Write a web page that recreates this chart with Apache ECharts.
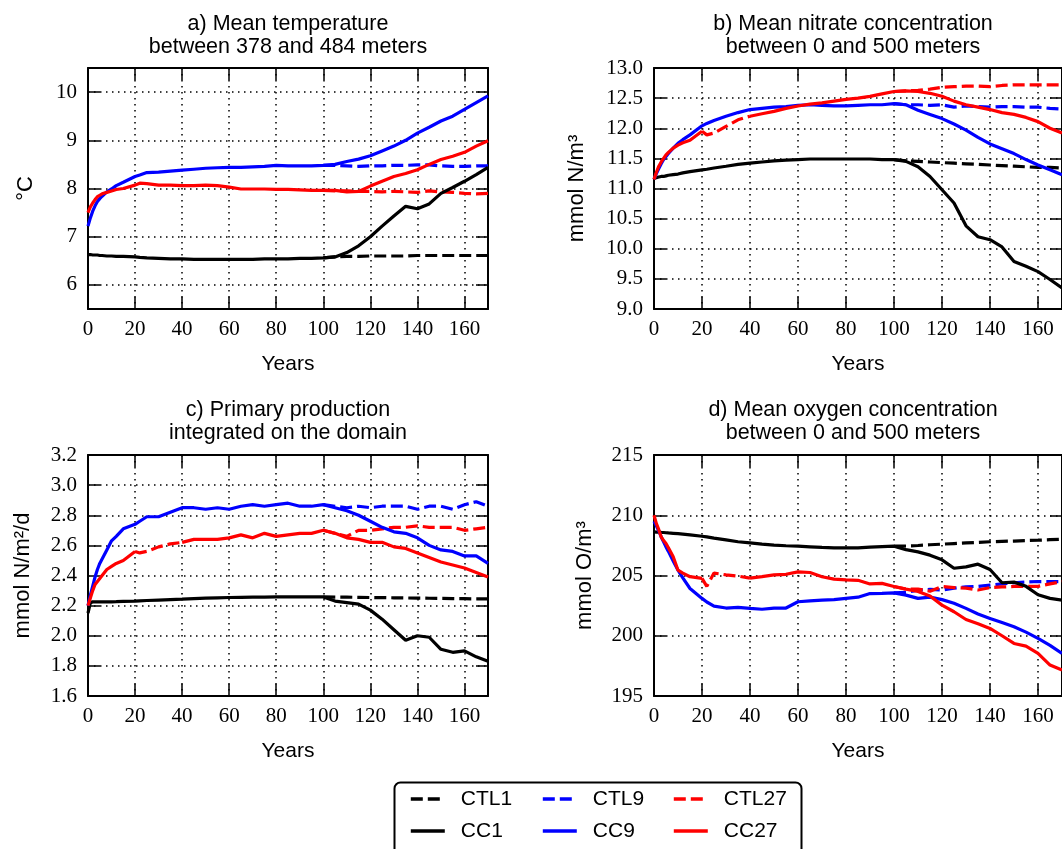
<!DOCTYPE html>
<html><head><meta charset="utf-8">
<script src="https://cdn.jsdelivr.net/npm/echarts@6/dist/echarts.min.js"></script>
<style>html,body{margin:0;padding:0;background:#fff}#c{width:1062px;height:849px}</style>
</head><body><div id="c"></div>
<script>
// ---------- data ----------
const years = [0,1,2,3,4,5,6,8,10,12,15,20,22,25,30,35,40,45,50,55,60,65,70,75,80,85,90,95,100,105,110,115,120,125,130,135,140,145,150,155,160,165,170];
const ctlYears = [100,105,110,115,120,125,130,135,140,145,150,155,160,165,170];
const gapYears = [20,22,25,30,35,40];

const xTicks = [0,20,40,60,80,100,120,140,160];
const tempTicks = [6,7,8,9,10];
const nitrateTicks = [9.0,9.5,10.0,10.5,11.0,11.5,12.0,12.5,13.0];
const ppTicks = [1.6,1.8,2.0,2.2,2.4,2.6,2.8,3.0,3.2];
const oxyTicks = [195,200,205,210,215];

// a) temperature
const tempCC1 = [6.63,6.63,6.62,6.62,6.62,6.61,6.61,6.60,6.60,6.59,6.59,6.58,6.57,6.56,6.55,6.54,6.54,6.53,6.53,6.53,6.53,6.53,6.53,6.54,6.54,6.54,6.55,6.55,6.56,6.58,6.67,6.81,7.00,7.22,7.43,7.63,7.58,7.68,7.90,8.02,8.15,8.29,8.44];
const tempCC9 = [7.22,7.39,7.53,7.64,7.73,7.79,7.84,7.93,7.99,8.06,8.13,8.25,8.28,8.33,8.34,8.36,8.38,8.40,8.42,8.43,8.44,8.44,8.45,8.46,8.48,8.47,8.47,8.47,8.48,8.50,8.56,8.61,8.68,8.78,8.88,9.00,9.15,9.27,9.40,9.50,9.64,9.78,9.92];
const tempCC27 = [7.50,7.62,7.70,7.77,7.83,7.86,7.89,7.92,7.95,7.98,8.00,8.07,8.11,8.10,8.07,8.07,8.06,8.06,8.07,8.06,8.03,7.99,7.99,7.99,7.98,7.98,7.97,7.96,7.96,7.96,7.93,7.94,8.05,8.15,8.25,8.31,8.39,8.50,8.60,8.67,8.75,8.88,8.99];
const tempCTL1 = [6.56,6.58,6.59,6.59,6.60,6.60,6.60,6.60,6.61,6.61,6.61,6.61,6.61,6.61,6.61];
const tempCTL9 = [8.48,8.48,8.47,8.46,8.47,8.47,8.48,8.48,8.49,8.49,8.47,8.46,8.46,8.47,8.47];
const tempCTL27 = [7.96,7.95,7.95,7.94,7.94,7.93,7.94,7.93,7.92,7.95,7.93,7.92,7.90,7.89,7.90];

// b) nitrate
const nitCC1 = [11.17,11.18,11.19,11.20,11.20,11.21,11.22,11.23,11.24,11.26,11.28,11.31,11.32,11.34,11.37,11.40,11.42,11.44,11.46,11.47,11.48,11.49,11.49,11.49,11.49,11.49,11.49,11.48,11.48,11.45,11.36,11.20,10.98,10.76,10.38,10.20,10.15,10.03,9.79,9.71,9.62,9.49,9.35];
const nitCC9 = [11.15,11.25,11.33,11.41,11.48,11.53,11.58,11.67,11.75,11.81,11.89,12.04,12.08,12.13,12.20,12.26,12.31,12.33,12.35,12.36,12.38,12.39,12.38,12.37,12.37,12.38,12.39,12.39,12.41,12.39,12.30,12.23,12.16,12.07,11.97,11.85,11.74,11.66,11.58,11.48,11.39,11.31,11.23];
const nitCC27 = [11.15,11.27,11.37,11.44,11.50,11.56,11.60,11.67,11.72,11.76,11.80,11.95,null,null,null,null,12.20,12.24,12.28,12.33,12.37,12.40,12.42,12.45,12.48,12.50,12.53,12.57,12.61,12.62,12.61,12.58,12.53,12.45,12.39,12.35,12.31,12.26,12.23,12.18,12.11,12.00,11.92];
const nitCTL1 = [11.48,11.46,11.45,11.44,11.43,11.42,11.41,11.40,11.39,11.38,11.37,11.36,11.35,11.35,11.34];
const nitCTL9 = [12.41,12.39,12.39,12.38,12.39,12.35,12.37,12.36,12.35,12.36,12.36,12.35,12.35,12.33,12.32];
const nitCTL27 = [12.61,12.62,12.63,12.65,12.68,12.69,12.70,12.70,12.69,12.71,12.72,12.72,12.72,12.72,12.72];
const nitCTL27gap = [11.95,11.89,11.92,12.03,12.14,12.20];

// c) primary production
const ppCC1 = [2.15,2.22,2.225,2.225,2.225,2.225,2.225,2.225,2.225,2.226,2.228,2.23,2.232,2.234,2.237,2.24,2.243,2.247,2.25,2.252,2.254,2.255,2.256,2.257,2.258,2.258,2.258,2.258,2.258,2.23,2.22,2.21,2.17,2.11,2.04,1.97,2.00,1.99,1.91,1.89,1.90,1.86,1.83];
const ppCC9 = [2.20,2.27,2.33,2.39,2.44,2.48,2.51,2.57,2.63,2.66,2.71,2.74,2.76,2.79,2.79,2.82,2.85,2.85,2.84,2.85,2.84,2.86,2.87,2.86,2.87,2.88,2.86,2.86,2.87,2.85,2.83,2.80,2.76,2.72,2.69,2.68,2.65,2.60,2.57,2.56,2.53,2.53,2.48];
const ppCC27 = [2.20,2.25,2.30,2.34,2.36,2.38,2.40,2.44,2.46,2.48,2.50,2.56,null,null,null,null,2.62,2.64,2.64,2.64,2.65,2.67,2.65,2.68,2.66,2.67,2.68,2.68,2.70,2.68,2.65,2.64,2.62,2.62,2.59,2.58,2.55,2.52,2.49,2.47,2.45,2.42,2.39];
const ppCTL1 = [2.258,2.257,2.256,2.255,2.254,2.253,2.252,2.251,2.250,2.249,2.248,2.247,2.246,2.245,2.245];
const ppCTL9 = [2.87,2.86,2.85,2.86,2.85,2.86,2.86,2.86,2.84,2.86,2.86,2.84,2.87,2.89,2.86];
const ppCTL27 = [2.70,2.68,2.66,2.70,2.70,2.71,2.72,2.72,2.73,2.72,2.72,2.72,2.70,2.71,2.72];
const ppCTL27gap = [2.56,2.55,2.56,2.59,2.61,2.62];

// d) oxygen
const oxyCC1 = [208.62,208.6,208.6,208.58,208.57,208.55,208.53,208.5,208.47,208.43,208.37,208.26,208.2,208.1,207.95,207.8,207.7,207.6,207.52,207.47,207.43,207.38,207.33,207.3,207.29,207.3,207.35,207.4,207.43,207.15,206.96,206.69,206.3,205.6,205.72,205.94,205.5,204.4,204.45,204.1,203.4,203.1,202.96];
const oxyCC9 = [209.5,209.1,208.7,208.2,207.8,207.37,207.0,206.2,205.44,204.8,203.92,203.1,202.8,202.46,202.3,202.35,202.27,202.2,202.3,202.3,202.82,202.9,202.96,203.0,203.1,203.2,203.5,203.52,203.56,203.37,203.1,203.2,203.0,202.7,202.27,201.8,201.44,201.1,200.75,200.3,199.78,199.2,198.54];
const oxyCC27 = [210.0,209.3,208.8,208.2,207.9,207.65,207.3,206.55,205.44,205.2,204.9,204.76,null,null,null,null,204.78,204.9,205.05,205.1,205.3,205.25,204.9,204.7,204.64,204.6,204.3,204.35,204.09,203.87,203.68,203.3,202.54,201.99,201.35,201.0,200.61,200.0,199.36,199.14,198.54,197.57,197.15];
const oxyCTL1 = [207.43,207.45,207.49,207.55,207.6,207.65,207.7,207.75,207.8,207.83,207.86,207.9,207.93,207.97,208.0];
const oxyCTL9 = [203.56,203.6,203.78,203.85,203.8,203.95,204.06,204.1,204.2,204.3,204.4,204.45,204.5,204.5,204.5];
const oxyCTL27 = [204.09,203.87,203.87,203.7,204.09,204.0,203.95,203.8,204.0,204.05,204.09,204.1,204.1,204.3,204.5];
const oxyCTL27gap = [204.76,204.1,205.2,205.05,204.95,204.78];

// ---------- chart ----------
const SANS = '"Liberation Sans", Arial, Helvetica, sans-serif';
const SERIF = '"Liberation Serif", "DejaVu Serif", serif';
const BLACK = '#000000', BLUE = '#0000ff', RED = '#ff0000';

const panels = [
  {title:'a) Mean temperature\nbetween 378 and 484 meters', cx:288, ty:13, yName:'°C', nameGap:51,
   yMin:5.5, yMax:10.5, yTicks:tempTicks, dec:0, left:88, top:68, width:400,
   cc:[tempCC1,tempCC9,tempCC27], ctl:[tempCTL1,tempCTL9,tempCTL27], gap:null},
  {title:'b) Mean nitrate concentration\nbetween 0 and 500 meters', cx:853, ty:13, yName:'mmol N/m³', nameGap:66,
   yMin:9, yMax:13, yTicks:nitrateTicks, dec:1, left:654, top:68, width:409,
   cc:[nitCC1,nitCC9,nitCC27], ctl:[nitCTL1,nitCTL9,nitCTL27], gap:nitCTL27gap},
  {title:'c) Primary production\nintegrated on the domain', cx:288, ty:399, yName:'mmol N/m²/d', nameGap:54,
   yMin:1.6, yMax:3.2, yTicks:ppTicks, dec:1, left:88, top:455, width:400,
   cc:[ppCC1,ppCC9,ppCC27], ctl:[ppCTL1,ppCTL9,ppCTL27], gap:ppCTL27gap},
  {title:'d) Mean oxygen concentration\nbetween 0 and 500 meters', cx:853, ty:399, yName:'mmol O/m³', nameGap:58,
   yMin:195, yMax:215, yTicks:oxyTicks, dec:0, left:654, top:455, width:409,
   cc:[oxyCC1,oxyCC9,oxyCC27], ctl:[oxyCTL1,oxyCTL9,oxyCTL27], gap:oxyCTL27gap}
];

const names = {cc:['CC1','CC9','CC27'], ctl:['CTL1','CTL9','CTL27']};
const colors = [BLACK, BLUE, RED];
const DASH = [12, 5];
const LW = 3.2;

const grids = [], xAxes = [], yAxes = [], series = [], titles = [];
const gridLine = {show:true, lineStyle:{color:'#000', width:1.5, type:[1.5,4.5]}};
const axLine = {show:true, onZero:false, lineStyle:{color:'#000', width:2}};

panels.forEach((p, i) => {
  grids.push({left:p.left, top:p.top, width:p.width, height:241, containLabel:false});
  titles.push({text:p.title, left:p.cx, top:p.ty, textAlign:'center', padding:0,
    textStyle:{fontFamily:SANS, fontSize:21.5, fontWeight:'normal', color:'#000', lineHeight:23}});
  const tick = (vals) => ({show:true, inside:true, length:12, customValues:vals, lineStyle:{color:'#000', width:1.5}});
  xAxes.push({type:'value', gridIndex:i, min:0, max:170, position:'bottom',
    axisLine:axLine, axisTick:tick(xTicks), splitLine:gridLine,
    axisLabel:{customValues:xTicks, fontFamily:SERIF, fontSize:21, color:'#000', margin:10},
    name:'Years', nameLocation:'middle', nameGap:45,
    nameTextStyle:{fontFamily:SANS, fontSize:21, color:'#000'}});
  xAxes.push({type:'value', gridIndex:i, min:0, max:170, position:'top',
    axisLine:axLine, axisTick:tick(xTicks), splitLine:{show:false}, axisLabel:{show:false}});
  yAxes.push({type:'value', gridIndex:i, min:p.yMin, max:p.yMax, position:'left',
    axisLine:axLine, axisTick:tick(p.yTicks), splitLine:gridLine,
    axisLabel:{customValues:p.yTicks, fontFamily:SERIF, fontSize:21, color:'#000', margin:11,
      formatter:(v)=>Number(v).toFixed(p.dec)},
    name:p.yName, nameLocation:'middle', nameGap:p.nameGap,
    nameTextStyle:{fontFamily:SANS, fontSize:22, color:'#000'}});
  yAxes.push({type:'value', gridIndex:i, min:p.yMin, max:p.yMax, position:'right',
    axisLine:axLine, axisTick:tick(p.yTicks), splitLine:{show:false}, axisLabel:{show:false}});

  const base = {type:'line', xAxisIndex:2*i, yAxisIndex:2*i, symbol:'none', showSymbol:false,
    silent:true, animation:false, connectNulls:false};
  // control runs (dashed)
  p.ctl.forEach((arr, k) => {
    series.push(Object.assign({}, base, {name:names.ctl[k],
      data: ctlYears.map((x, j) => [x, arr[j]]),
      lineStyle:{color:colors[k], width:LW, type:DASH}, itemStyle:{color:colors[k]}}));
  });
  if (p.gap) {
    series.push(Object.assign({}, base, {name:'CTL27',
      data: gapYears.map((x, j) => [x, p.gap[j]]),
      lineStyle:{color:RED, width:LW, type:DASH}, itemStyle:{color:RED}}));
  }
  // climate change runs (solid)
  p.cc.forEach((arr, k) => {
    series.push(Object.assign({}, base, {name:names.cc[k],
      data: years.map((x, j) => [x, arr[j]]),
      lineStyle:{color:colors[k], width:LW, type:'solid'}, itemStyle:{color:colors[k]}}));
  });
});

const legendCols = [[409, ['CTL1','CC1']], [541, ['CTL9','CC9']], [672, ['CTL27','CC27']]];
const legends = legendCols.map(([left, data]) => ({
  left:left, top:787, orient:'vertical', padding:0, itemWidth:34, itemHeight:14, itemGap:8,
  selectedMode:false, data:data, itemStyle:{opacity:0}, lineStyle:{width:3.6},
  textStyle:{fontFamily:SANS, fontSize:21, color:'#000', lineHeight:24, padding:[0,0,0,11]}
}));

const chart = echarts.init(document.getElementById('c'), null, {renderer:'canvas'});
chart.setOption({
  backgroundColor:'#ffffff',
  animation:false,
  title:titles,
  grid:grids,
  xAxis:xAxes,
  yAxis:yAxes,
  legend:legends,
  graphic:[{type:'rect', left:392, top:780, silent:true, z:0,
    shape:{width:407, height:80, r:6}, style:{fill:'none', stroke:'#000', lineWidth:2}}],
  series:series
});
</script></body></html>
